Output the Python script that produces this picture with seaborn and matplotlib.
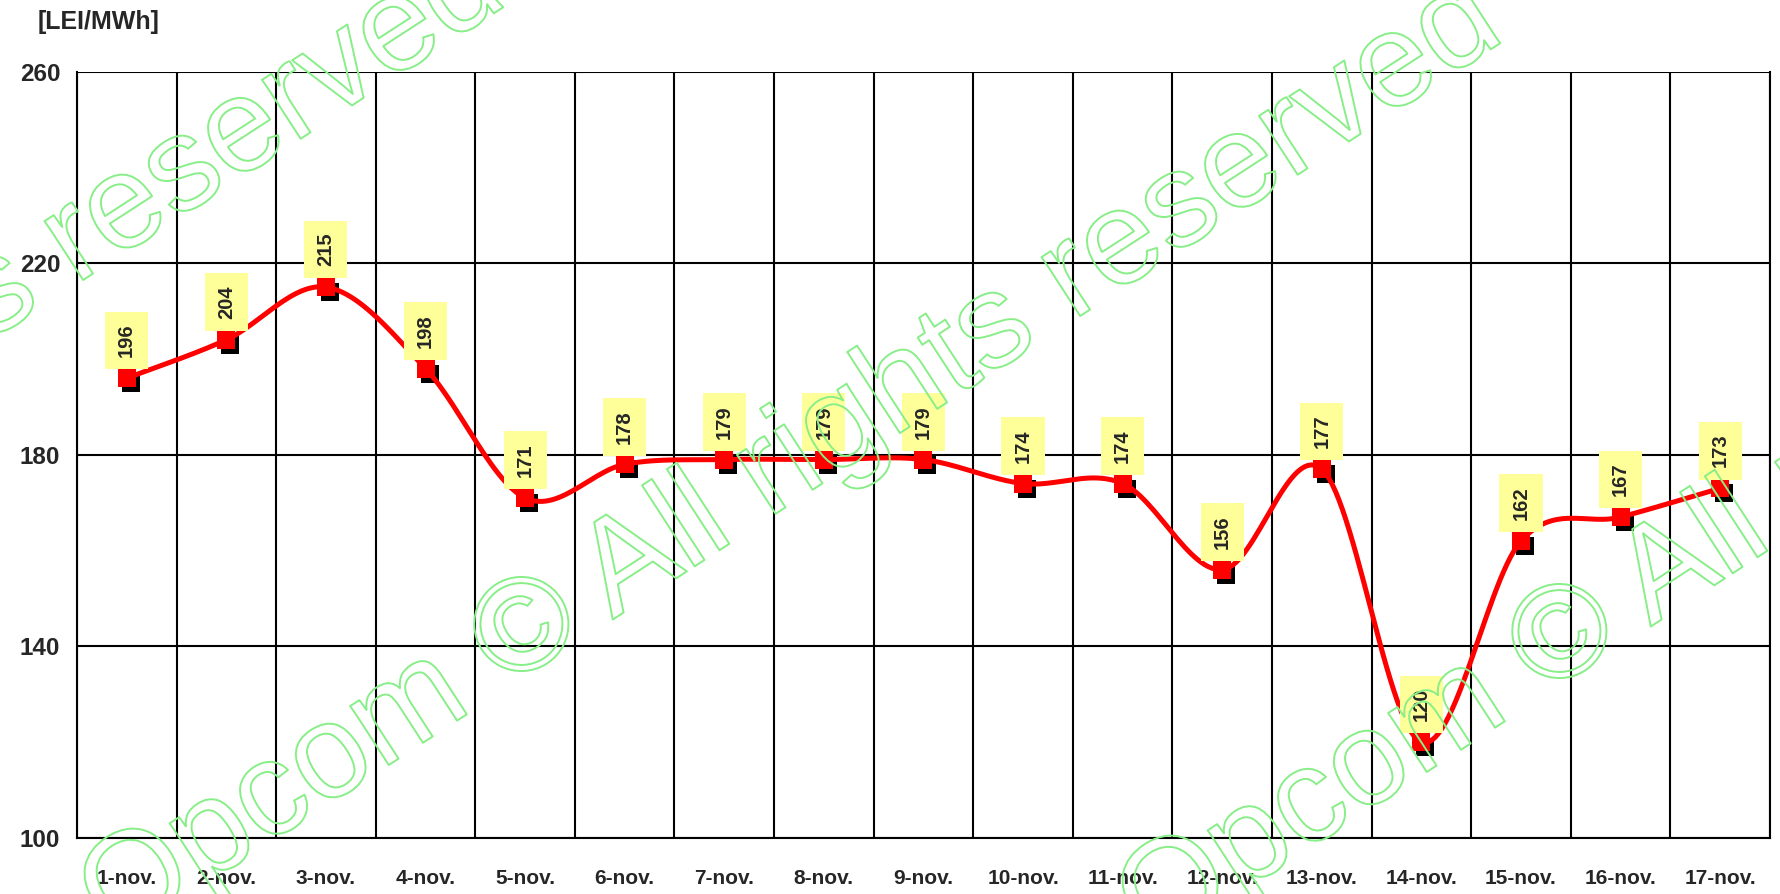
import numpy as np
import pandas as pd
import seaborn as sns
import matplotlib.pyplot as plt
import matplotlib.patheffects as pe
from matplotlib import transforms

days = ['1-nov.', '2-nov.', '3-nov.', '4-nov.', '5-nov.', '6-nov.', '7-nov.', '8-nov.', '9-nov.',
        '10-nov.', '11-nov.', '12-nov.', '13-nov.', '14-nov.', '15-nov.', '16-nov.', '17-nov.']
prices = [196, 204, 215, 198, 171, 178, 179, 179, 179, 174, 174, 156, 177, 120, 162, 167, 173]
y_ticks = [100, 140, 180, 220, 260]
unit_label = '[LEI/MWh]'
watermark = 'Opcom \u00a9 All rights reserved'


def smooth_curve(xs, ys, steps=30):
    # Excel-like smoothed line: Catmull-Rom segments through the points
    xs = np.asarray(xs, float)
    ys = np.asarray(ys, float)
    px = np.concatenate([[xs[0]], xs, [xs[-1]]])
    py = np.concatenate([[ys[0]], ys, [ys[-1]]])
    out_x, out_y = [], []
    t = np.linspace(0, 1, steps)
    for i in range(1, len(px) - 2):
        p0, p1, p2, p3 = (np.array([px[j], py[j]]) for j in (i - 1, i, i + 1, i + 2))
        c1 = p1 + (p2 - p0) / 6
        c2 = p2 - (p3 - p1) / 6
        b = ((1 - t) ** 3)[:, None] * p1 + (3 * (1 - t) ** 2 * t)[:, None] * c1 \
            + (3 * (1 - t) * t ** 2)[:, None] * c2 + (t ** 3)[:, None] * p2
        out_x.extend(b[:, 0])
        out_y.extend(b[:, 1])
    return out_x, out_y


df = pd.DataFrame({'pos': np.arange(len(days)), 'price': prices})

sns.set_style('white')
plt.rcParams['font.family'] = ['Liberation Sans', 'DejaVu Sans']

fig = plt.figure(figsize=(17.81, 8.94), dpi=100)
ax = fig.add_axes([0.0432, 0.0626, 0.9506, 0.8574])

# smooth red line
sx, sy = smooth_curve(df['pos'], df['price'])
ax.plot(sx, sy, color='#ff0000', lw=3.6, zorder=4, solid_capstyle='round')

# black shadow squares, then red squares
shadow = transforms.offset_copy(ax.transData, fig=fig, x=4, y=-5, units='dots')
ax.scatter(df['pos'], df['price'], marker='s', s=160, color='black', lw=0,
           transform=shadow, zorder=3)
sns.scatterplot(data=df, x='pos', y='price', marker='s', s=170, color='#ff0000',
                linewidth=0, ax=ax, zorder=5, legend=False)

# rotated value labels on yellow boxes
for x, v in zip(df['pos'], df['price']):
    ax.annotate(str(v), (x, v), xytext=(0, 15), textcoords='offset points',
                rotation=90, ha='center', va='bottom', fontsize=14.5, fontweight='bold',
                bbox=dict(boxstyle='square,pad=0.6', fc='#ffff99', ec='none'), zorder=6)

ax.set_xlim(-0.5, len(days) - 0.5)
ax.set_ylim(100, 260)
ax.set_yticks(y_ticks)
ax.set_yticklabels([str(v) for v in y_ticks], fontsize=17.5, fontweight='bold')
ax.set_xticks(df['pos'])
ax.set_xticklabels(days, fontsize=15, fontweight='bold')
ax.set_xticks(np.arange(-0.5, len(days)), minor=True)
ax.tick_params(axis='x', which='major', length=0, pad=22)
ax.tick_params(axis='x', which='minor', length=8, width=1.5, color='black', direction='out')
ax.tick_params(axis='y', which='major', length=8, width=1.5, color='black', direction='out', pad=4)
ax.grid(True, which='minor', axis='x', color='black', lw=1.5)
ax.grid(True, which='major', axis='y', color='black', lw=1.5)
ax.set_xlabel('')
ax.set_ylabel('')
for name, sp in ax.spines.items():
    sp.set_visible(name in ('left', 'bottom', 'right'))
    sp.set_color('black')
    sp.set_linewidth(1.5)

fig.text(38, 860, unit_label, transform=None, fontsize=18, fontweight='bold', va='bottom')

# outlined green watermark lines, repeated along the diagonal
for cx, cy in ((-205, 468), (792, 432), (1830, 425)):
    fig.text(cx, cy, watermark, transform=None, rotation=33, rotation_mode='anchor',
             ha='center', va='center', fontsize=96, color='none',
             path_effects=[pe.Stroke(linewidth=1.4, foreground='#88ee88')], zorder=10)

fig.savefig('out.png', dpi=100, facecolor='white')
